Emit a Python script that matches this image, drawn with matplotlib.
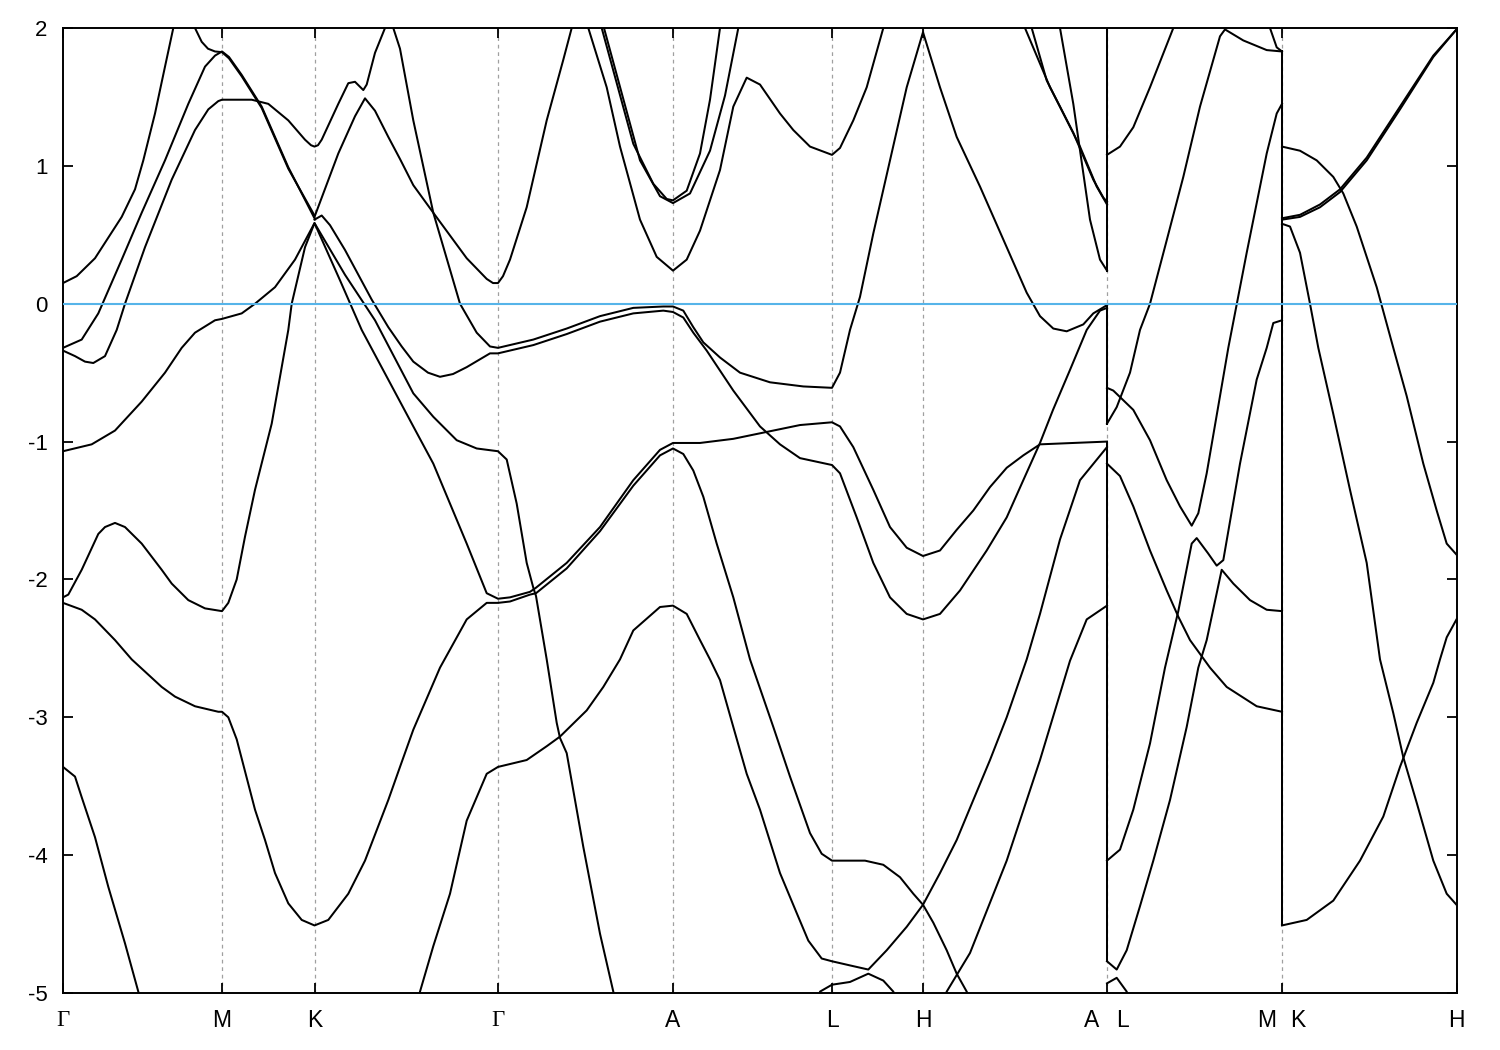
"""
Band structure along G-M-K-G-A-L-H-A|L-M|K-H, energies relative to E_F.
"""

import matplotlib
matplotlib.use('Agg')
import matplotlib.pyplot as plt
from matplotlib.transforms import blended_transform_factory

plt.rcParams['font.family'] = ['Liberation Sans', 'DejaVu Sans']
plt.rcParams['axes.unicode_minus'] = False

# high-symmetry points (path length, arbitrary units)
KPOINTS = [0.0, 1.59, 2.515, 4.35, 6.10, 7.69, 8.60, 10.44, 12.19, 13.935]
KLABELS = ['Γ', 'M', 'K', 'Γ', 'A', 'L', 'H', ('A', 'L'), ('M', 'K'), 'H']
K_AL, K_MK = 10.44, 12.19

EMIN, EMAX = -5.0, 2.0
YTICKS = [-5, -4, -3, -2, -1, 0, 1, 2]

# bands, (k, E) in eV
BAND_01 = [(0.0, 0.15), (0.137, 0.20), (0.32, 0.33), (0.587, 0.63), (0.72, 0.83),
           (0.803, 1.04), (0.92, 1.38), (1.02, 1.72), (1.103, 2.0)]
BAND_02 = [(0.0, -0.32), (0.187, -0.26), (0.353, -0.07), (0.587, 0.32), (0.787, 0.66),
           (1.02, 1.04), (1.253, 1.45), (1.42, 1.72), (1.52, 1.80), (1.59, 1.83),
           (1.66, 1.79), (1.787, 1.66), (1.987, 1.43), (2.253, 0.99), (2.515, 0.62)]
BAND_03 = [(1.32, 2.0), (1.387, 1.90), (1.45, 1.85), (1.52, 1.83), (1.59, 1.825),
           (1.66, 1.78), (1.787, 1.65), (1.987, 1.42), (2.253, 0.98), (2.515, 0.64)]
BAND_04 = [(0.0, -0.34), (0.12, -0.38), (0.22, -0.42), (0.303, -0.43), (0.42, -0.38),
           (0.537, -0.19), (0.62, 0.0), (0.82, 0.41), (1.087, 0.90), (1.32, 1.26),
           (1.453, 1.41), (1.553, 1.47), (1.59, 1.48), (1.887, 1.48), (2.053, 1.45),
           (2.253, 1.33), (2.42, 1.19), (2.48, 1.15), (2.515, 1.14), (2.55, 1.15),
           (2.587, 1.19), (2.753, 1.45), (2.853, 1.60), (2.92, 1.61), (3.003, 1.55),
           (3.037, 1.59), (3.12, 1.82), (3.22, 2.0)]
BAND_05 = [(2.515, 0.63), (2.753, 1.09), (2.92, 1.36), (3.02, 1.49), (3.12, 1.40),
           (3.253, 1.21), (3.37, 1.05), (3.503, 0.86), (3.703, 0.66), (4.037, 0.33),
           (4.237, 0.18), (4.30, 0.15), (4.35, 0.15), (4.40, 0.20), (4.47, 0.32),
           (4.637, 0.70), (4.837, 1.33), (5.003, 1.77), (5.087, 2.0)]
BAND_06 = [(3.303, 2.0), (3.37, 1.85), (3.503, 1.33), (3.703, 0.66), (3.97, 0.0),
           (4.137, -0.21), (4.27, -0.31), (4.35, -0.32), (4.703, -0.26), (5.037, -0.18),
           (5.37, -0.09), (5.703, -0.03), (6.003, -0.02), (6.10, -0.02), (6.203, -0.05),
           (6.303, -0.17), (6.403, -0.28), (6.57, -0.39), (6.77, -0.50), (7.07, -0.57),
           (7.403, -0.60), (7.69, -0.61), (7.77, -0.50), (7.87, -0.19), (7.97, 0.05),
           (8.103, 0.51), (8.27, 1.04), (8.437, 1.57), (8.60, 1.97), (8.77, 1.57),
           (8.937, 1.21), (9.17, 0.85), (9.437, 0.41), (9.637, 0.08), (9.77, -0.09),
           (9.903, -0.18), (10.037, -0.20), (10.203, -0.15), (10.303, -0.07), (10.44, -0.01)]
BAND_07 = [(2.515, 0.61), (2.587, 0.64), (2.67, 0.57), (2.82, 0.39), (3.087, 0.03),
           (3.253, -0.17), (3.387, -0.31), (3.503, -0.42), (3.65, -0.50), (3.77, -0.53),
           (3.90, -0.51), (4.037, -0.46), (4.27, -0.36), (4.35, -0.36), (4.703, -0.30),
           (5.037, -0.22), (5.37, -0.13), (5.703, -0.07), (6.003, -0.05), (6.10, -0.06),
           (6.203, -0.10), (6.303, -0.21), (6.437, -0.34), (6.703, -0.63), (6.97, -0.89),
           (7.17, -1.02), (7.37, -1.12), (7.69, -1.17), (7.77, -1.23), (7.937, -1.55),
           (8.103, -1.88), (8.27, -2.13), (8.437, -2.25), (8.60, -2.29), (8.77, -2.25),
           (8.97, -2.08), (9.237, -1.79), (9.437, -1.55), (9.603, -1.28), (9.77, -1.01),
           (9.9, -0.77), (10.07, -0.48), (10.237, -0.19), (10.37, -0.05), (10.44, -0.03)]
BAND_08 = [(0.0, -1.07), (0.287, -1.02), (0.52, -0.92), (0.787, -0.71), (1.02, -0.50),
           (1.187, -0.32), (1.32, -0.21), (1.52, -0.12), (1.59, -0.11), (1.787, -0.07),
           (1.92, 0.0), (2.12, 0.12), (2.32, 0.32), (2.515, 0.585), (2.82, 0.21),
           (3.12, -0.12), (3.503, -0.65), (3.703, -0.82), (3.937, -0.99), (4.137, -1.05),
           (4.35, -1.07), (4.437, -1.13), (4.537, -1.45), (4.637, -1.88), (4.703, -2.06),
           (4.73, -2.12), (4.837, -2.58), (4.937, -3.04), (4.97, -3.15), (5.037, -3.26),
           (5.203, -3.94), (5.37, -4.57), (5.503, -4.99), (5.52, -5.05)]
BAND_09 = [(0.0, -2.13), (0.053, -2.11), (0.187, -1.93), (0.353, -1.67), (0.42, -1.62),
           (0.52, -1.59), (0.62, -1.62), (0.787, -1.74), (0.987, -1.93), (1.087, -2.03),
           (1.253, -2.15), (1.42, -2.21), (1.59, -2.23), (1.653, -2.17), (1.737, -2.00),
           (1.82, -1.69), (1.92, -1.35), (2.087, -0.87), (2.253, -0.19), (2.287, 0.0),
           (2.42, 0.41), (2.515, 0.585), (2.77, 0.17), (2.987, -0.19), (3.503, -0.89),
           (3.703, -1.16), (4.037, -1.74), (4.237, -2.10), (4.35, -2.14), (4.47, -2.13),
           (4.67, -2.09), (4.73, -2.06), (5.037, -1.88), (5.37, -1.62), (5.703, -1.28),
           (5.97, -1.06), (6.10, -1.01), (6.37, -1.01), (6.703, -0.98), (6.97, -0.94),
           (7.37, -0.88), (7.69, -0.86), (7.77, -0.89), (7.903, -1.04), (8.103, -1.35),
           (8.27, -1.62), (8.437, -1.77), (8.60, -1.83), (8.77, -1.79), (8.937, -1.64),
           (9.103, -1.50), (9.27, -1.33), (9.437, -1.19), (9.603, -1.10), (9.77, -1.02),
           (10.103, -1.01), (10.44, -1.00)]
BAND_10 = [(0.0, -2.17), (0.187, -2.22), (0.32, -2.29), (0.52, -2.44), (0.687, -2.58),
           (0.987, -2.78), (1.12, -2.85), (1.32, -2.92), (1.553, -2.96), (1.59, -2.96),
           (1.653, -3.00), (1.737, -3.16), (1.92, -3.67), (2.02, -3.89), (2.12, -4.13),
           (2.253, -4.35), (2.387, -4.47), (2.515, -4.51), (2.653, -4.47), (2.853, -4.28),
           (3.02, -4.04), (3.253, -3.60), (3.37, -3.36), (3.503, -3.09), (3.77, -2.64),
           (4.037, -2.29), (4.237, -2.17), (4.35, -2.17), (4.47, -2.16), (4.67, -2.11),
           (4.73, -2.10), (5.037, -1.92), (5.37, -1.65), (5.703, -1.32), (5.97, -1.10),
           (6.10, -1.05), (6.203, -1.09), (6.303, -1.21), (6.403, -1.40), (6.537, -1.74),
           (6.703, -2.13), (6.87, -2.58), (7.103, -3.07), (7.27, -3.43), (7.47, -3.84),
           (7.587, -3.99), (7.69, -4.04), (8.02, -4.04), (8.203, -4.07), (8.37, -4.16),
           (8.503, -4.28), (8.60, -4.36), (8.703, -4.49), (8.837, -4.69), (8.937, -4.86),
           (9.037, -4.99), (9.07, -5.05)]
BAND_11 = [(0.0, -3.36), (0.12, -3.43), (0.187, -3.58), (0.32, -3.87), (0.453, -4.23),
           (0.62, -4.64), (0.753, -4.99), (0.77, -5.05)]
BAND_12 = [(3.55, -5.05), (3.57, -4.99), (3.703, -4.66), (3.87, -4.28), (4.037, -3.75),
           (4.237, -3.41), (4.35, -3.36), (4.637, -3.31), (4.837, -3.21), (4.97, -3.14),
           (5.237, -2.95), (5.403, -2.78), (5.57, -2.58), (5.703, -2.37), (5.97, -2.20),
           (6.10, -2.19), (6.237, -2.25), (6.37, -2.44), (6.47, -2.58), (6.57, -2.73),
           (6.703, -3.07), (6.837, -3.41), (6.97, -3.67), (7.17, -4.13), (7.337, -4.42),
           (7.453, -4.62), (7.587, -4.75), (7.69, -4.77), (7.87, -4.80), (8.053, -4.83),
           (8.237, -4.69), (8.437, -4.52), (8.60, -4.36), (8.77, -4.13), (8.937, -3.89),
           (9.103, -3.60), (9.27, -3.31), (9.437, -3.00), (9.637, -2.58), (9.77, -2.25),
           (9.97, -1.71), (10.17, -1.28), (10.44, -1.04)]
BAND_13 = [(8.81, -5.05), (8.837, -4.99), (9.07, -4.71), (9.437, -4.04), (9.77, -3.31),
           (10.07, -2.59), (10.237, -2.29), (10.44, -2.19)]
BAND_14 = [(7.55, -5.05), (7.57, -4.99), (7.69, -4.94), (7.87, -4.92), (8.053, -4.86),
           (8.203, -4.91), (8.303, -4.99), (8.34, -5.05)]
BAND_15 = [(5.253, 2.0), (5.437, 1.57), (5.57, 1.14), (5.77, 0.61), (5.937, 0.34),
           (6.10, 0.24), (6.237, 0.32), (6.37, 0.53), (6.57, 0.97), (6.703, 1.43),
           (6.837, 1.64), (6.97, 1.59), (7.17, 1.38), (7.303, 1.26), (7.47, 1.14),
           (7.69, 1.08), (7.77, 1.13), (7.903, 1.33), (8.037, 1.57), (8.203, 2.0)]
BAND_16 = [(5.387, 2.0), (5.703, 1.16), (5.903, 0.87), (6.037, 0.76), (6.10, 0.75),
           (6.237, 0.82), (6.37, 1.09), (6.47, 1.48), (6.57, 2.0)]
BAND_17 = [(5.41, 2.0), (5.77, 1.04), (5.97, 0.78), (6.10, 0.73), (6.27, 0.80),
           (6.47, 1.11), (6.62, 1.51), (6.753, 2.0)]
BAND_18 = [(9.62, 2.0), (9.87, 1.57), (10.103, 1.24), (10.303, 0.90), (10.403, 0.77),
           (10.44, 0.74)]
BAND_19 = [(9.687, 2.0), (9.837, 1.62), (9.97, 1.43), (10.17, 1.14), (10.337, 0.85),
           (10.44, 0.72)]
BAND_20 = [(9.97, 2.0), (10.103, 1.45), (10.27, 0.61), (10.37, 0.32), (10.44, 0.24)]
# L -> M
BAND_21 = [(10.44, 1.08), (10.57, 1.14), (10.703, 1.28), (10.87, 1.57), (11.103, 2.0)]
BAND_22 = [(10.44, -0.87), (10.537, -0.75), (10.67, -0.50), (10.77, -0.19), (10.87, 0.0),
           (11.037, 0.46), (11.203, 0.92), (11.37, 1.43), (11.57, 1.94), (11.62, 1.99),
           (11.803, 1.91), (12.037, 1.84), (12.19, 1.83)]
BAND_23 = [(12.07, 2.0), (12.137, 1.86), (12.19, 1.83)]
BAND_24 = [(10.44, -0.61), (10.503, -0.63), (10.703, -0.77), (10.87, -0.99), (11.037, -1.28),
           (11.17, -1.47), (11.287, -1.61), (11.353, -1.52), (11.437, -1.23), (11.57, -0.67),
           (11.653, -0.32), (11.837, 0.37), (12.037, 1.09), (12.137, 1.38), (12.19, 1.45)]
BAND_25 = [(10.44, -4.04), (10.57, -3.96), (10.703, -3.67), (10.87, -3.19), (11.02, -2.64),
           (11.153, -2.23), (11.287, -1.74), (11.337, -1.70), (11.45, -1.81), (11.537, -1.90),
           (11.603, -1.86), (11.77, -1.16), (11.937, -0.55), (12.037, -0.32), (12.103, -0.14),
           (12.19, -0.12)]
BAND_26 = [(10.44, -1.16), (10.57, -1.25), (10.703, -1.47), (10.87, -1.79), (11.037, -2.08),
           (11.153, -2.27), (11.27, -2.44), (11.37, -2.54), (11.47, -2.64), (11.637, -2.78),
           (11.937, -2.92), (12.19, -2.96)]
BAND_27 = [(10.44, -4.77), (10.537, -4.83), (10.637, -4.69), (10.77, -4.37), (10.903, -4.04),
           (11.07, -3.60), (11.237, -3.07), (11.353, -2.64), (11.437, -2.44), (11.537, -2.10),
           (11.587, -1.93), (11.703, -2.03), (11.87, -2.15), (12.037, -2.22), (12.19, -2.23)]
BAND_28 = [(10.44, -4.93), (10.537, -4.89), (10.637, -4.99), (10.66, -5.05)]
# K -> H
BAND_29 = [(12.19, 1.14), (12.37, 1.11), (12.537, 1.04), (12.703, 0.92), (12.803, 0.80),
           (12.937, 0.56), (13.137, 0.12), (13.303, -0.32), (13.437, -0.67), (13.603, -1.16),
           (13.737, -1.50), (13.837, -1.74), (13.935, -1.82)]
BAND_30 = [(12.19, 0.61), (12.37, 0.63), (12.57, 0.70), (12.77, 0.81), (13.037, 1.04),
           (13.37, 1.41), (13.703, 1.79), (13.935, 1.99)]
BAND_31 = [(12.19, 0.62), (12.37, 0.645), (12.57, 0.72), (12.77, 0.83), (13.037, 1.06),
           (13.37, 1.43), (13.703, 1.80), (13.935, 1.99)]
BAND_32 = [(12.19, 0.58), (12.27, 0.56), (12.37, 0.37), (12.47, 0.0), (12.553, -0.32),
           (12.703, -0.80), (12.87, -1.35), (13.037, -1.88), (13.17, -2.58), (13.303, -2.97),
           (13.403, -3.29), (13.537, -3.62), (13.703, -4.04), (13.837, -4.28), (13.935, -4.36)]
BAND_33 = [(12.19, -4.51), (12.437, -4.47), (12.703, -4.33), (12.97, -4.04), (13.203, -3.72),
           (13.37, -3.36), (13.537, -3.04), (13.703, -2.75), (13.77, -2.58), (13.837, -2.42),
           (13.935, -2.29)]

# energies on both sides of the path breaks (A|L and M|K), joined by the plot
JUMPS_AL = [(0.24, 2.2), (-0.01, -0.61), (-0.03, -0.87), (-1.00, -1.16),
            (-1.04, -4.04), (-2.19, -4.77)]
JUMPS_MK = [(1.83, 1.14), (1.45, 0.62), (-0.12, 0.61), (-2.96, 0.58), (-2.23, -4.51)]

ALL_BANDS = [BAND_01, BAND_02, BAND_03, BAND_04, BAND_05, BAND_06, BAND_07, BAND_08,
             BAND_09, BAND_10, BAND_11, BAND_12, BAND_13, BAND_14, BAND_15, BAND_16,
             BAND_17, BAND_18, BAND_19, BAND_20, BAND_21, BAND_22, BAND_23, BAND_24,
             BAND_25, BAND_26, BAND_27, BAND_28, BAND_29, BAND_30, BAND_31, BAND_32,
             BAND_33]


def main():
    fig = plt.figure(figsize=(15, 10.5), dpi=100)
    ax = fig.add_axes([0.042, 0.0543, 0.929, 0.919])

    # dotted guides at high-symmetry points
    for k in KPOINTS[1:-1]:
        ax.axvline(k, color='#a0a0a0', lw=0.9, ls=(0, (3, 3)), zorder=1)

    for band in ALL_BANDS:
        ks = [p[0] for p in band]
        es = [p[1] for p in band]
        ax.plot(ks, es, color='black', lw=1.45, solid_joinstyle='round', zorder=2)

    for kb, jumps in ((K_AL, JUMPS_AL), (K_MK, JUMPS_MK)):
        for e1, e2 in jumps:
            ax.plot([kb, kb], [e1, e2], color='black', lw=1.45, zorder=2)

    ax.axhline(0.0, color='#56b4e9', lw=1.5, zorder=3)

    ax.set_xlim(KPOINTS[0], KPOINTS[-1])
    ax.set_ylim(EMIN, EMAX)
    ax.set_yticks(YTICKS)
    ax.set_yticklabels([str(t) for t in YTICKS])
    ax.set_xticks(KPOINTS)
    ax.set_xticklabels([''] * len(KPOINTS))
    ax.tick_params(direction='in', length=7, width=1.3, top=True, right=True,
                   labelsize=16, pad=11)
    for side in ax.spines.values():
        side.set_linewidth(1.4)

    trans = blended_transform_factory(ax.transData, ax.transAxes)
    for k, lab in zip(KPOINTS, KLABELS):
        parts = [(lab, 0)] if isinstance(lab, str) else [(lab[0], -11), (lab[1], 11)]
        for txt, dx in parts:
            fam = ['Liberation Serif', 'DejaVu Serif'] if txt == 'Γ' else None
            ax.annotate(txt, xy=(k, 0), xycoords=trans, xytext=(dx, -19.5),
                        textcoords='offset points', ha='center', va='center',
                        fontsize=16.5, family=fam)

    fig.savefig('out.png', dpi=100)
    plt.close(fig)


if __name__ == '__main__':
    main()
